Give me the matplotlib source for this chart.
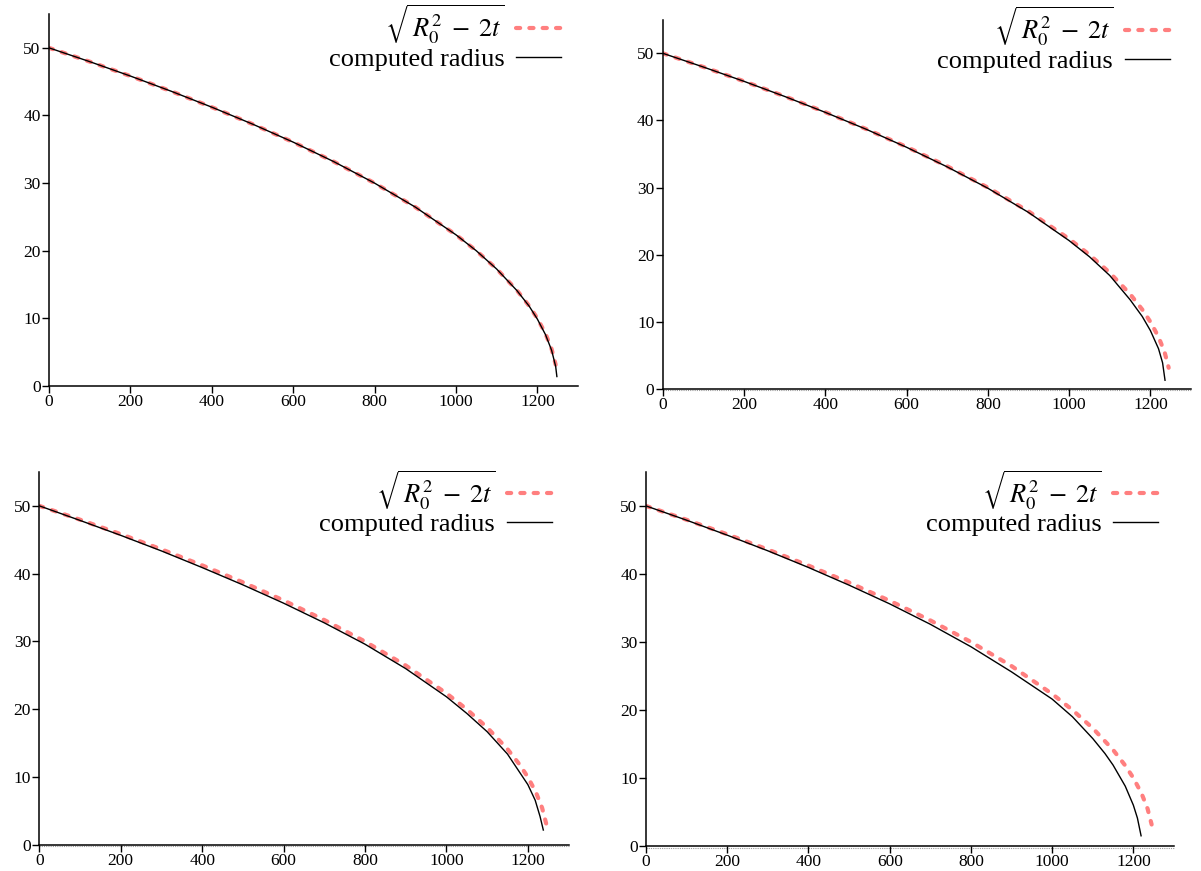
import matplotlib
matplotlib.use("Agg")
import matplotlib.pyplot as plt
import matplotlib.transforms as mtransforms

plt.rcParams["font.family"] = ["Liberation Serif", "DejaVu Serif"]
plt.rcParams["mathtext.fontset"] = "stix"

# analytic radius sqrt(R0^2 - 2t), R0 = 50
t_exact = [0, 100, 200, 300, 400, 500, 600, 700, 800, 900, 1000, 1050,
           1100, 1150, 1180, 1200, 1220, 1235, 1245]
r_exact = [50.0, 47.96, 45.83, 43.59, 41.23, 38.73, 36.06, 33.17, 30.0,
           26.46, 22.36, 20.0, 17.32, 14.14, 11.83, 10.0, 7.75, 5.48, 3.16]

# computed radius, one series per panel
t_comp1 = [0, 100, 200, 300, 400, 500, 600, 700, 800, 900, 1000, 1050,
           1100, 1150, 1180, 1200, 1220, 1235, 1245, 1248]
r_comp1 = [50.0, 47.96, 45.83, 43.59, 41.23, 38.73, 36.06, 33.17, 30.0,
           26.46, 22.36, 20.0, 17.3, 14.1, 11.8, 9.9, 7.6, 5.3, 2.9, 1.4]

t_comp2 = [0, 100, 200, 300, 400, 500, 600, 700, 800, 900, 1000, 1050,
           1100, 1150, 1180, 1200, 1220, 1230, 1236]
r_comp2 = [50.0, 47.95, 45.82, 43.57, 41.2, 38.7, 36.0, 33.08, 29.9, 26.3,
           22.1, 19.7, 16.9, 13.3, 10.8, 8.7, 6.0, 3.9, 1.3]

t_comp3 = [0, 100, 200, 300, 400, 500, 600, 700, 800, 900, 1000, 1050,
           1100, 1150, 1200, 1218, 1230, 1238]
r_comp3 = [50.0, 47.85, 45.65, 43.35, 40.9, 38.35, 35.65, 32.75, 29.6,
           26.0, 21.85, 19.4, 16.7, 13.4, 8.9, 6.6, 4.2, 2.2]

t_comp4 = [0, 100, 200, 300, 400, 500, 600, 700, 800, 900, 1000, 1050,
           1100, 1130, 1150, 1180, 1200, 1210, 1219]
r_comp4 = [50.0, 47.9, 45.7, 43.4, 40.95, 38.35, 35.6, 32.6, 29.3, 25.6,
           21.6, 19.0, 15.8, 13.6, 11.9, 8.8, 6.0, 4.1, 1.5]

computed = [(t_comp1, r_comp1), (t_comp2, r_comp2),
            (t_comp3, r_comp3), (t_comp4, r_comp4)]

exact_label = r"$\sqrt{\,R_0^2 \;-\; 2t}$"
comp_label = "computed radius"

# axes boxes in figure fraction: left, bottom, width, height
boxes = [
    (0.0408, 0.5568, 0.4405, 0.4271),
    (0.5518, 0.5534, 0.4399, 0.4240),
    (0.0327, 0.0299, 0.4407, 0.4283),
    (0.5379, 0.0287, 0.4396, 0.4295),
]
# legend anchor (axes fraction)
anchors = [(0.968, 1.03), (0.960, 1.04), (0.968, 1.01), (0.970, 1.01)]

fig = plt.figure(figsize=(12.01, 8.71), dpi=100)

for i, box in enumerate(boxes):
    ax = fig.add_axes(box)
    tc, rc = computed[i]
    ax.plot(t_exact, r_exact, color="#ff7f7f", lw=3.0, dashes=(1.0, 2.2),
            dash_capstyle="round", label=exact_label, zorder=2)
    ax.plot(tc, rc, color="black", lw=1.0, label=comp_label, zorder=3)

    ax.set_xlim(0, 1300)
    ax.set_ylim(0, 55)
    ax.set_xticks(range(0, 1201, 200))
    ax.set_yticks(range(0, 51, 10))
    ax.spines["top"].set_visible(False)
    ax.spines["right"].set_visible(False)
    ax.spines["left"].set_linewidth(1.1)
    ax.spines["bottom"].set_linewidth(1.1)
    ax.tick_params(direction="out", length=5, width=1.0, labelsize=12.5,
                   pad=1)

    if i > 0:
        off = mtransforms.offset_copy(ax.transData, fig=fig, x=0, y=-1.5,
                                      units="dots")
        ax.plot([0, 1300], [0, 0], color="0.6", lw=0.8, ls=(0, (1, 1)),
                transform=off, clip_on=False, zorder=1)

    ax.legend(loc="upper right", bbox_to_anchor=anchors[i], frameon=False,
              markerfirst=False, fontsize=19, handlelength=1.7,
              handletextpad=0.45, labelspacing=0.05, borderpad=0,
              borderaxespad=0)

fig.savefig("out.png", dpi=100)
